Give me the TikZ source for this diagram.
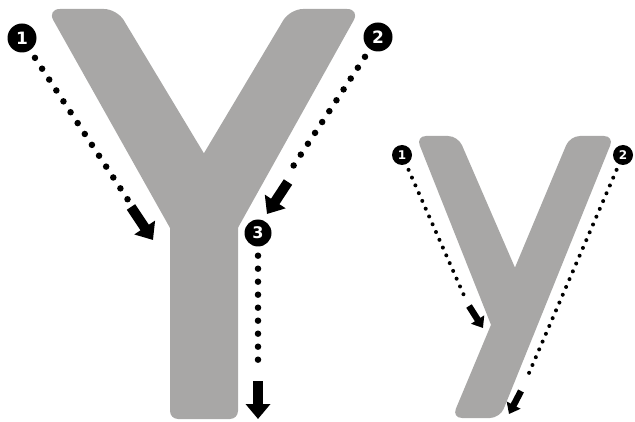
\documentclass[tikz,border=0pt]{standalone}
\usepackage{fontspec}
\setsansfont{DejaVu Sans}
\usetikzlibrary{arrows.meta}
\definecolor{lettergray}{RGB}{168,167,166}

\begin{document}
\begin{tikzpicture}[
  x=1pt, y=-1pt,
  letter/.style={fill=lettergray},
  numdot/.style={circle, fill=black, text=white, inner sep=0pt,
                 minimum size=#1, font=\sffamily\bfseries},
  bigdots/.style={line width=6.5pt, line cap=round, dash pattern=on 0pt off 13pt,
                  shorten <=9pt},
  smalldots/.style={line width=4pt, line cap=round, dash pattern=on 0pt off 8.5pt,
                    shorten <=6pt},
  bigarrow/.style={line width=10pt, -{Triangle[length=15pt,width=24pt]}},
  smallarrow/.style={line width=6.5pt, -{Triangle[length=10pt,width=15pt]}}
]
  \useasboundingbox (0,0) rectangle (635,422);

  % --- capital Y: two arms and a stem -------------------------------
  \fill[letter, rounded corners=13pt]
    (82,9) -- (117,9) -- (226,190) -- (188,260) -- (47,9) -- cycle;
  \fill[letter, rounded corners=13pt]
    (325,9) -- (360,9) -- (220,260) -- (182,190) -- (290,9) -- cycle;
  \fill[letter, rounded corners=8pt]
    (204,419) -- (170,419) -- (170,200) -- (238,200) -- (238,419) -- cycle;

  % --- small y: short arm and long stroke ---------------------------
  \fill[letter, rounded corners=10pt]
    (437,136) -- (458,136) -- (529,300) -- (501,350) -- (416,136) -- cycle;
  \fill[letter, rounded corners=10pt]
    (592,136) -- (614,136) -- (500,418) -- (452,418) -- (570,136) -- cycle;

  % --- numbered start points ----------------------------------------
  \node[numdot=29pt, font=\sffamily\bfseries\fontsize{17}{17}\selectfont] (big1) at (22,38) {1};
  \node[numdot=29pt, font=\sffamily\bfseries\fontsize{17}{17}\selectfont] (big2) at (378,37) {2};
  \node[numdot=27pt, font=\sffamily\bfseries\fontsize{16}{16}\selectfont] (big3) at (258,233) {3};
  \node[numdot=20pt, font=\sffamily\bfseries\fontsize{12}{12}\selectfont] (sm1) at (402,155) {1};
  \node[numdot=20pt, font=\sffamily\bfseries\fontsize{12}{12}\selectfont] (sm2) at (623,155) {2};

  % --- arrow ends -----------------------------------------------------
  \coordinate (big1end)  at (128,200);
  \coordinate (big1tail) at (131,207);
  \coordinate (big1tip)  at (153,240);
  \coordinate (big2end)  at (292,168);
  \coordinate (big2tail) at (288,182);
  \coordinate (big2tip)  at (267,214);
  \coordinate (big3end)  at (258,371);
  \coordinate (big3tail) at (258,381);
  \coordinate (big3tip)  at (258,419);
  \coordinate (sm1end)   at (466,300);
  \coordinate (sm1tail)  at (469,306);
  \coordinate (sm1tip)   at (483,328);
  \coordinate (sm2end)   at (526,380);
  \coordinate (sm2tail)  at (521,391);
  \coordinate (sm2tip)   at (509,414);

  % --- strokes ------------------------------------------------------
  \draw[bigdots] (big1) -- (big1end);
  \draw[bigarrow] (big1tail) -- (big1tip);
  \draw[bigdots] (big2) -- (big2end);
  \draw[bigarrow] (big2tail) -- (big2tip);
  \draw[bigdots] (big3) -- (big3end);
  \draw[bigarrow] (big3tail) -- (big3tip);

  \draw[smalldots] (sm1) -- (sm1end);
  \draw[smallarrow] (sm1tail) -- (sm1tip);
  \draw[smalldots] (sm2) -- (sm2end);
  \draw[smallarrow] (sm2tail) -- (sm2tip);
\end{tikzpicture}
\end{document}
